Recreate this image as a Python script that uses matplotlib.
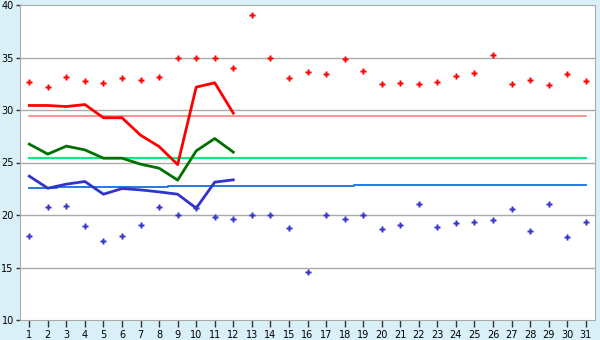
import matplotlib
matplotlib.use("Agg")
import matplotlib.pyplot as plt

days = list(range(1, 32))

# record highs / lows for each day
rec_hi = [32.66, 32.18, 33.14, 32.78, 32.56, 33.04, 32.88, 33.14, 35.0, 35.0,
          35.0, 34.0, 39.05, 35.0, 33.04, 33.6, 33.4, 34.9, 33.7, 32.47,
          32.56, 32.47, 32.66, 33.23, 33.52, 35.23, 32.47, 32.85, 32.37, 33.42, 32.75]
rec_lo = [18.0, 20.74, 20.84, 18.93, 17.5, 18.0, 19.03, 20.74, 20.0, 20.65,
          19.79, 19.6, 20.0, 20.0, 18.74, 14.55, 20.0, 19.6, 20.0, 18.65,
          19.03, 21.03, 18.84, 19.22, 19.31, 19.5, 20.55, 18.45, 21.03, 17.88, 19.31]

# this month so far (days 1-12)
cur_days = list(range(1, 13))
cur_hi = [30.43, 30.43, 30.33, 30.52, 29.26, 29.26, 27.6, 26.52, 24.8, 32.18, 32.59, 29.7]
cur_mean = [26.75, 25.8, 26.56, 26.2, 25.41, 25.41, 24.84, 24.46, 23.32, 26.11, 27.28, 25.99]
cur_lo = [23.7, 22.55, 22.94, 23.19, 21.98, 22.52, 22.39, 22.2, 21.98, 20.65, 23.13, 23.35]

# normals
norm_hi = [29.42] * 31
norm_mean = [25.41] * 31
norm_lo = [22.55] * 2 + [22.65] * 6 + [22.74] * 10 + [22.84] * 13

fig = plt.figure(figsize=(6, 3.4), dpi=100, facecolor="#daf0f8")
ax = fig.add_axes([20 / 600, 1 - 320 / 340, 575 / 600, 315 / 340])
ax.set_facecolor("white")

ax.set_xlim(0.5, 31.5)
ax.set_ylim(10, 40)
ax.set_yticks(range(10, 41, 5))
ax.set_xticks(days)
for y in range(15, 40, 5):
    ax.axhline(y, color="#aaaaaa", lw=1, zorder=1)

ax.plot(days, norm_hi, color="#ff8080", lw=1.2, zorder=2)
ax.plot(days, norm_mean, color="#00f080", lw=1.5, zorder=2)
ax.plot(days, norm_lo, color="#1070e0", lw=1.3, drawstyle="steps-mid", zorder=2)

ax.plot(days, rec_hi, ls="none", marker="P", ms=4.2, color="#ff0000", mec="none", zorder=3)
ax.plot(days, rec_lo, ls="none", marker="P", ms=4.2, color="#3333cc", mec="none", zorder=3)

ax.plot(cur_days, cur_hi, color="#ff0000", lw=2, zorder=4)
ax.plot(cur_days, cur_mean, color="#007000", lw=2, zorder=4)
ax.plot(cur_days, cur_lo, color="#3333cc", lw=2, zorder=4)

for s in ax.spines.values():
    s.set_color("#aaaaaa")
ax.tick_params(axis="both", colors="#333333", labelcolor="black", labelsize=7,
               length=3, width=1, pad=1.5)
ax.tick_params(axis="x", length=5, pad=2)

fig.savefig("out.png", dpi=100, facecolor=fig.get_facecolor())
